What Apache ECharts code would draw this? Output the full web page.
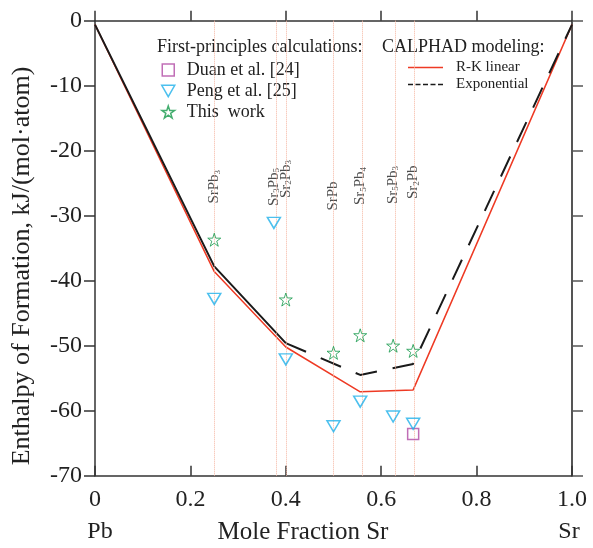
<!DOCTYPE html>
<html>
<head>
<meta charset="utf-8">
<script src="https://cdn.jsdelivr.net/npm/echarts@6/dist/echarts.min.js"></script>
<style>
html,body{margin:0;padding:0;background:#fff;}
#chart{width:593px;height:548px;}
</style>
</head>
<body>
<div id="chart"></div>
<script>
// ---- data ----
const compoundX = [0.25, 0.375, 0.4, 0.5, 0.556, 0.625, 0.667];
const compoundNames = ['SrPb3', 'Sr3Pb5', 'Sr2Pb3', 'SrPb', 'Sr5Pb4', 'Sr5Pb3', 'Sr2Pb'];
const thisWorkX = [0.25, 0.4, 0.5, 0.556, 0.625, 0.667];
const thisWorkY = [-33.7, -42.9, -51.1, -48.4, -50.0, -50.8];
const pengX = [0.25, 0.375, 0.4, 0.5, 0.556, 0.625, 0.667];
const pengY = [-42.8, -31.1, -52.1, -62.4, -58.6, -60.9, -62.0];
const duanX = [0.667];
const duanY = [-63.6];
const rkX = [0, 0.25, 0.4, 0.556, 0.667, 1];
const rkY = [-0.6, -38.6, -50.2, -57.1, -56.8, -0.6];
const expX = [0, 0.25, 0.4, 0.556, 0.667, 1];
const expY = [-0.6, -37.8, -49.6, -54.5, -52.8, -0.6];
const xTickLabels = ['0', '0.2', '0.4', '0.6', '0.8', '1.0'];
const yTickLabels = ['-70', '-60', '-50', '-40', '-30', '-20', '-10', '0'];

// ---- style ----
const FONT = 'Liberation Serif';
const labelDx = [-3.5, -6, 2, -10.5, -5, -4, 1];
const labelBaseY = -27.6;
const starPath = 'path://M50,2 L61,36 L97,36 L68,57 L79,92 L50,71 L21,92 L32,57 L3,36 L39,36 Z';
const squareIcon = 'path://M0,0 L10,0 L10,10 L0,10 Z';
const triDownPath = 'path://M0,0 L12,0 L6,10.4 Z';
const solidIcon = 'path://M0,0 L35,0 L35,1.6 L0,1.6 Z';
const dashIcon = 'path://M0,0 L5,0 L5,1.6 L0,1.6 Z M7.5,0 L12.5,0 L12.5,1.6 L7.5,1.6 Z M15,0 L20,0 L20,1.6 L15,1.6 Z M22.5,0 L27.5,0 L27.5,1.6 L22.5,1.6 Z M30,0 L35,0 L35,1.6 L30,1.6 Z';
const CLEAR = 'rgba(0,0,0,0)';

const zip = (xs, ys) => xs.map((x, i) => [x, ys[i]]);
const chem = s => s.replace(/(\d+)/g, '{s|$1}');

const chart = echarts.init(document.getElementById('chart'), null, {renderer: 'canvas'});
const axisCol = '#333';

const option = {
  animation: false,
  backgroundColor: '#fff',
  grid: {left: 95, right: 21, top: 20.7, bottom: 72.3, containLabel: false},
  xAxis: [
    {
      type: 'value', min: 0, max: 1, interval: 0.2, position: 'bottom',
      axisLine: {show: true, onZero: false, lineStyle: {color: axisCol, width: 1.5}},
      axisTick: {show: true, inside: true, length: 10, lineStyle: {color: axisCol, width: 1.5}},
      splitLine: {show: false},
      axisLabel: {
        margin: 12, color: '#222', fontFamily: FONT, fontSize: 24,
        formatter: v => xTickLabels[Math.round(v / 0.2)]
      }
    },
    {
      type: 'value', min: 0, max: 1, interval: 0.2, position: 'top',
      axisLine: {show: true, onZero: false, lineStyle: {color: axisCol, width: 1.5}},
      axisTick: {show: true, inside: false, length: 10, lineStyle: {color: axisCol, width: 1.5}},
      splitLine: {show: false},
      axisLabel: {show: false}
    }
  ],
  yAxis: [
    {
      type: 'value', min: -70, max: 0, interval: 10, position: 'left',
      axisLine: {show: true, onZero: false, lineStyle: {color: axisCol, width: 1.5}},
      axisTick: {show: true, inside: false, length: 11, lineStyle: {color: axisCol, width: 1.5}},
      splitLine: {show: false},
      axisLabel: {
        margin: 13, color: '#222', fontFamily: FONT, fontSize: 24,
        formatter: v => yTickLabels[Math.round((v + 70) / 10)]
      }
    },
    {
      type: 'value', min: -70, max: 0, interval: 10, position: 'right',
      axisLine: {show: true, onZero: false, lineStyle: {color: '#555', width: 2}},
      axisTick: {show: true, inside: false, length: 11, lineStyle: {color: '#555', width: 1.5}},
      splitLine: {show: false},
      axisLabel: {show: false}
    }
  ],
  legend: [
    {
      orient: 'vertical', left: 156, top: 56, itemWidth: 13, itemHeight: 12, itemGap: 3,
      selectedMode: false,
      textStyle: {fontFamily: FONT, fontSize: 18, color: '#222', padding: [0, 0, 0, 7]},
      data: [
        {name: 'Duan et al. [24]', icon: squareIcon, itemStyle: {color: CLEAR, borderColor: '#b04aa4', borderWidth: 1.5}},
        {name: 'Peng et al. [25]', icon: triDownPath, itemStyle: {color: CLEAR, borderColor: '#1fb0ea', borderWidth: 1.5}},
        {name: 'This  work', icon: starPath, itemStyle: {color: CLEAR, borderColor: '#14994a', borderWidth: 1.5}}
      ]
    },
    {
      orient: 'vertical', left: 403, top: 55, itemWidth: 35, itemHeight: 10, itemGap: 2,
      selectedMode: false,
      textStyle: {fontFamily: FONT, fontSize: 15, color: '#222', padding: [0, 0, 0, 8]},
      data: [
        {name: 'R-K linear', icon: solidIcon, itemStyle: {color: '#ee3a24', borderWidth: 0}},
        {name: 'Exponential', icon: dashIcon, itemStyle: {color: '#1a1a1a', borderWidth: 0}}
      ]
    }
  ],
  graphic: [
    {type: 'text', left: 157, top: 38, style: {text: 'First-principles calculations:', font: '18px "' + FONT + '"', fill: '#222'}},
    {type: 'text', left: 382, top: 38, style: {text: 'CALPHAD modeling:', font: '18px "' + FONT + '"', fill: '#222'}},
    {type: 'text', x: 22, y: 266, rotation: Math.PI / 2,
      style: {text: 'Enthalpy of Formation, kJ/(mol\u00b7atom)', font: '26px "' + FONT + '"', fill: '#222', textAlign: 'center', textVerticalAlign: 'middle'}},
    {type: 'text', x: 100, y: 532, style: {text: 'Pb', font: '24px "' + FONT + '"', fill: '#222', textAlign: 'center', textVerticalAlign: 'middle'}},
    {type: 'text', x: 303, y: 532, style: {text: 'Mole Fraction Sr', font: '25px "' + FONT + '"', fill: '#222', textAlign: 'center', textVerticalAlign: 'middle'}},
    {type: 'text', x: 569, y: 532, style: {text: 'Sr', font: '24px "' + FONT + '"', fill: '#222', textAlign: 'center', textVerticalAlign: 'middle'}}
  ],
  series: [
    {
      name: 'compounds', type: 'scatter', symbolSize: 1, silent: true, z: 1,
      itemStyle: {color: CLEAR},
      data: compoundX.map((x, i) => ({
        value: [x, labelBaseY],
        label: {offset: [labelDx[i], 0]}
      })),
      label: {
        show: true, position: 'inside', rotate: 90, align: 'left', verticalAlign: 'middle',
        fontFamily: FONT, fontSize: 15, color: '#222',
        formatter: p => chem(compoundNames[p.dataIndex]),
        rich: {s: {fontFamily: FONT, fontSize: 9, color: '#222', verticalAlign: 'bottom', lineHeight: 9}}
      },
      markLine: {
        silent: true, symbol: 'none', label: {show: false},
        lineStyle: {type: 'dotted', color: '#f5b5a0', width: 1},
        data: compoundX.map(x => ({xAxis: x}))
      }
    },
    {
      name: 'R-K linear', type: 'line', data: zip(rkX, rkY), symbol: 'none', z: 3,
      lineStyle: {color: '#ee3a24', width: 1.5}, itemStyle: {color: '#ee3a24'}
    },
    {
      name: 'Exponential (solid part)', type: 'line', data: zip(expX, expY).slice(0, 3), symbol: 'none', z: 4,
      lineStyle: {color: '#1a1a1a', width: 2}, itemStyle: {color: '#1a1a1a'}
    },
    {
      name: 'Exponential', type: 'line', data: zip(expX, expY).slice(2), symbol: 'none', z: 4,
      lineStyle: {color: '#1a1a1a', width: 2, type: [22, 16]}, itemStyle: {color: '#1a1a1a'}
    },
    {
      name: 'Duan et al. [24]', type: 'scatter', data: zip(duanX, duanY), symbol: 'rect', symbolSize: 11, z: 5,
      itemStyle: {color: CLEAR, borderColor: '#b04aa4', borderWidth: 1.5}
    },
    {
      name: 'Peng et al. [25]', type: 'scatter', data: zip(pengX, pengY), symbol: triDownPath, symbolSize: [13, 11], z: 5,
      itemStyle: {color: CLEAR, borderColor: '#1fb0ea', borderWidth: 1.5}
    },
    {
      name: 'This  work', type: 'scatter', data: zip(thisWorkX, thisWorkY), symbol: starPath, symbolSize: 13, z: 5,
      itemStyle: {color: CLEAR, borderColor: '#14994a', borderWidth: 1}
    }
  ]
};
chart.setOption(option);
</script>
</body>
</html>
